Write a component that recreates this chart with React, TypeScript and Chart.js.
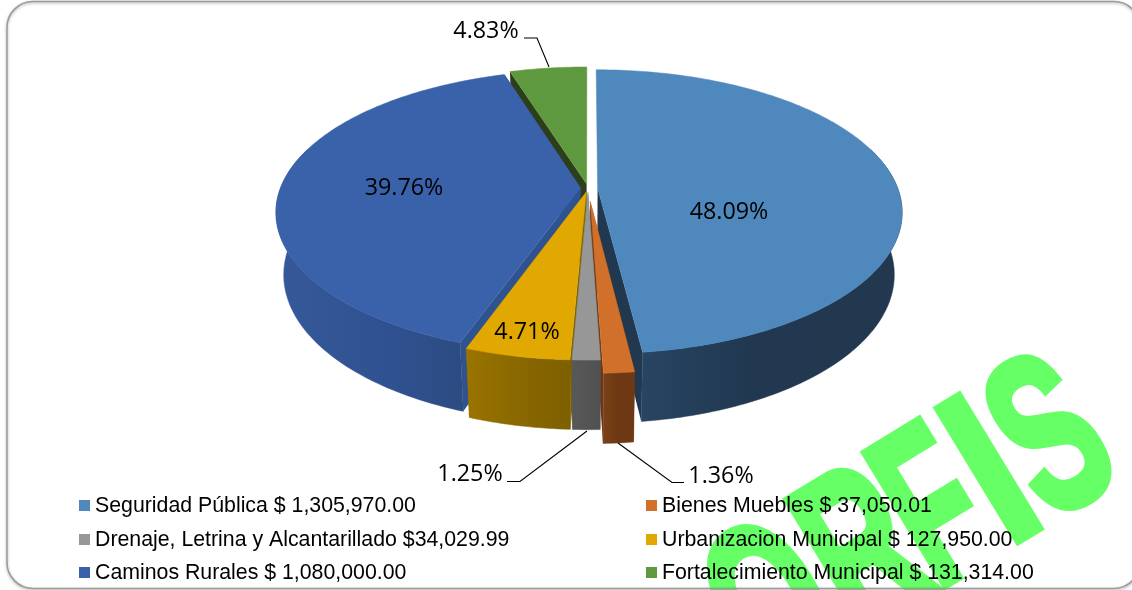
import React, { useEffect, useRef } from "react";
import { Chart, registerables } from "chart.js";

Chart.register(...registerables);

const categories = [
  "Seguridad Pública $ 1,305,970.00",
  "Bienes Muebles $ 37,050.01",
  "Drenaje, Letrina y Alcantarillado $34,029.99",
  "Urbanizacion Municipal $ 127,950.00",
  "Caminos Rurales $ 1,080,000.00",
  "Fortalecimiento Municipal $ 131,314.00",
];
const shares = [48.09, 1.36, 1.25, 4.71, 39.76, 4.83];
const explode = [0.032, 0.095, 0.03, 0.03, 0.025, 0.03];
const topColors = ["#4F88BC", "#D0702A", "#979797", "#E0A800", "#3A62AB", "#5F993F"];
const radialColors = ["#21384F", "#6B3714", "#4E4E4E", "#7D6000", "#2F5290", "#2C3F1A"];
const wallStops = [
  ["#2A4A6A", "#213850", "#21384F"],
  ["#7A4116", "#6D3813", "#6D3813"],
  ["#585858", "#555555", "#505050"],
  ["#9A7400", "#8A6800", "#7D6000"],
  ["#36599A", "#2F5190", "#2A4879"],
  ["#2C3F1A", "#2C3F1A", "#2C3F1A"],
];
const legendSlots = [
  [79, 95, 506.5],
  [646, 662, 506.5],
  [79, 95, 540.5],
  [646, 662, 540.5],
  [79, 95, 573.5],
  [646, 662, 573.5],
];
const labelSlots = [
  [729, 212],
  [721, 476],
  [470, 474],
  [527, 332],
  [404, 188],
  [486, 31],
];
const leaders: number[][][] = [
  [[524, 38], [537, 38], [549, 67]],
  [[507, 481.5], [520, 481.5], [587, 431]],
  [[684, 482.5], [672, 482.5], [618, 443]],
];
const markLetters = ["O", "R", "F", "I", "S"];
const markCenters = [-256, -150, -68, 0, 69];
const markWidths = [0.6, 0.6, 0.58, 0.8, 0.6];

const CX = 588, CY = 188, RX = 300, RY = 138, K = 0.169, DEPTH = 61, SHRINK = 0.975;

function project(X: number, Z: number, lower: boolean): [number, number] {
  const p = 1 / (1 + K * Z);
  let x = CX + RX * X * p;
  let y = CY - RY * Z * p;
  if (lower) {
    x = CX + SHRINK * (x - CX);
    y = CY + SHRINK * (y - CY) + DEPTH * p;
  }
  return [x, y];
}

const piePlugin = {
  id: "pie3d",
  beforeDraw(chart: any) {
    const ctx = chart.ctx;
    ctx.save();
    ctx.fillStyle = "#ffffff";
    ctx.fillRect(0, 0, 1132, 590);
    ctx.translate(1031, 538);
    ctx.rotate((-31.3 * Math.PI) / 180);
    ctx.fillStyle = "#66FF66";
    ctx.strokeStyle = "#66FF66";
    ctx.lineJoin = "miter";
    ctx.font = 'bold 225px "Liberation Sans", sans-serif';
    ctx.textAlign = "center";
    ctx.textBaseline = "alphabetic";
    markLetters.forEach((letter, n) => {
      ctx.save();
      ctx.translate(markCenters[n], -4);
      ctx.scale(markWidths[n], 1);
      ctx.lineWidth = 8;
      ctx.fillText(letter, 0, 0);
      ctx.strokeText(letter, 0, 0);
      ctx.restore();
    });
    ctx.restore();

    ctx.save();
    ctx.beginPath();
    ctx.roundRect(7, 1.5, 1133, 587, 26);
    ctx.shadowColor = "rgba(0,0,0,0.35)";
    ctx.shadowBlur = 3;
    ctx.shadowOffsetY = 1;
    ctx.strokeStyle = "#9A9A9A";
    ctx.lineWidth = 1.5;
    ctx.stroke();
    ctx.restore();
  },
  beforeDatasetsDraw(chart: any) {
    const ctx = chart.ctx;
    const arcs = chart.getDatasetMeta(0).data;
    const slices = arcs.map((arc: any, index: number) => {
      const start = arc.startAngle + Math.PI / 2;
      const end = arc.endAngle + Math.PI / 2;
      const mid = (start + end) / 2;
      const dX = Math.sin(mid) * explode[index];
      const dZ = Math.cos(mid) * explode[index];
      return { index, start, end, mid, dX, dZ };
    });
    slices.sort((a: any, b: any) => Math.cos(b.mid) - Math.cos(a.mid));

    for (const s of slices) {
      const pt = (th: number, lower: boolean) =>
        project(Math.sin(th) + s.dX, Math.cos(th) + s.dZ, lower);
      const apex = (lower: boolean) => project(s.dX, s.dZ, lower);
      const steps = Math.max(4, Math.ceil((s.end - s.start) * 60));
      const poly = (points: [number, number][], fill: any, edge: boolean) => {
        ctx.beginPath();
        points.forEach((q, n) => (n ? ctx.lineTo(q[0], q[1]) : ctx.moveTo(q[0], q[1])));
        ctx.closePath();
        ctx.fillStyle = fill;
        ctx.fill();
        if (edge) {
          ctx.strokeStyle = fill;
          ctx.lineWidth = 0.5;
          ctx.stroke();
        }
      };
      const radial = radialColors[s.index];
      // A radial wall seen almost edge-on would only leave a dark hairline, so it is left out.
      for (const th of [s.start, s.end]) {
        if (Math.abs(pt(th, false)[0] - apex(false)[0]) > 3) {
          poly([apex(false), pt(th, false), pt(th, true), apex(true)], radial, false);
        }
      }
      const upper: [number, number][] = [];
      const rimUpper: [number, number][] = [];
      const rimLower: [number, number][] = [];
      for (let n = 0; n <= steps; n++) {
        const th = s.start + ((s.end - s.start) * n) / steps;
        upper.push(pt(th, false));
        if (Math.cos(th) < 0.3) {
          rimUpper.push(pt(th, false));
          rimLower.unshift(pt(th, true));
        }
      }
      if (rimUpper.length > 1) {
        const xs = upper.map((q) => q[0]);
        const grad = ctx.createLinearGradient(Math.min(...xs), 0, Math.max(...xs), 0);
        const stops = wallStops[s.index];
        grad.addColorStop(0, stops[0]);
        grad.addColorStop(0.5, stops[1]);
        grad.addColorStop(1, stops[2]);
        poly([...rimUpper, ...rimLower], grad, true);
      }
      poly([apex(false), ...upper], topColors[s.index], true);
    }
    return false;
  },
  afterDraw(chart: any) {
    const ctx = chart.ctx;
    ctx.save();
    ctx.strokeStyle = "#000000";
    ctx.lineWidth = 1.1;
    for (const line of leaders) {
      ctx.beginPath();
      line.forEach((q, n) => (n ? ctx.lineTo(q[0], q[1]) : ctx.moveTo(q[0], q[1])));
      ctx.stroke();
    }
    ctx.fillStyle = "#000000";
    ctx.textAlign = "center";
    ctx.textBaseline = "middle";
    ctx.font = '23.3px "Open Sans", sans-serif';
    shares.forEach((v, n) => {
      ctx.fillText(v.toFixed(2) + "%", labelSlots[n][0], labelSlots[n][1]);
    });
    ctx.textAlign = "left";
    ctx.font = '21.3px "Liberation Sans", Arial, sans-serif';
    categories.forEach((label, n) => {
      const [sx, tx, cy] = legendSlots[n];
      ctx.fillStyle = topColors[n];
      ctx.fillRect(sx, cy - 6.5, 11, 11);
      ctx.fillStyle = "#000000";
      ctx.fillText(label, tx, cy);
    });
    ctx.restore();
  },
};

export default function App() {
  const ref = useRef<HTMLCanvasElement>(null);
  useEffect(() => {
    if (!ref.current) return;
    const chart = new Chart(ref.current, {
      type: "pie",
      data: {
        labels: categories,
        datasets: [{ data: shares, backgroundColor: topColors, borderWidth: 0 }],
      },
      options: {
        responsive: false,
        animation: false,
        plugins: { legend: { display: false }, tooltip: { enabled: false } },
      },
      plugins: [piePlugin],
    } as any);
    return () => chart.destroy();
  }, []);
  return (
    <div style={{ position: "fixed", left: 0, top: 0, width: 1132, height: 590, background: "#fff" }}>
      <canvas ref={ref} width={1132} height={590} style={{ display: "block" }} />
    </div>
  );
}
